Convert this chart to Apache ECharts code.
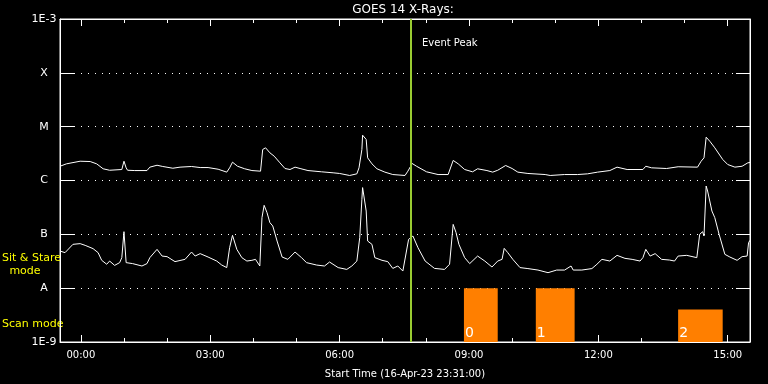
<!DOCTYPE html>
<html><head><meta charset="utf-8">
<script src="https://cdn.jsdelivr.net/npm/echarts@6/dist/echarts.min.js"></script>
<style>html,body{margin:0;padding:0;background:#000}#c{width:768px;height:384px}</style>
</head><body><div id="c"></div>
<script>
const TITLE = "GOES 14 X-Rays:";
const X_NAME = "Start Time (16-Apr-23 23:31:00)";
const START_TIME = "23:31";
const END_TIME = "15:31";
const EVENT_PEAK = "07:39";
const xMajorTicks = ["00:00","03:00","06:00","09:00","12:00","15:00"];
const xMinorTicks = ["00:00","01:00","02:00","03:00","04:00","05:00","06:00","07:00","08:00","09:00","10:00","11:00","12:00","13:00","14:00","15:00"];
const yLevels = [1e-9,1e-8,1e-7,1e-6,1e-5,1e-4,1e-3];
const yLevelLabels = ["1E-9","A","B","C","M","X","1E-3"];

// GOES long channel (1-8 A)
const longTimes = ["23:31","23:40","23:59","00:13","00:22","00:31","00:40","00:57","01:00","01:03","01:05","01:15","01:32","01:36","01:46","01:54","02:08","02:18","02:34","02:46","02:57","03:11","03:23","03:27","03:31","03:38","03:48","03:58","04:10","04:13","04:17","04:23","04:29","04:37","04:44","04:51","04:58","05:05","05:16","05:35","05:51","06:00","06:14","06:24","06:27","06:31","06:32","06:37","06:39","06:45","06:52","07:03","07:14","07:31","07:35","07:41","07:47","08:01","08:17","08:31","08:38","08:45","08:54","09:05","09:12","09:25","09:33","09:40","09:51","10:00","10:08","10:22","10:46","10:53","11:13","11:31","11:45","11:59","12:16","12:26","12:40","13:02","13:06","13:14","13:35","13:51","14:18","14:23","14:27","14:30","14:32","14:35","14:42","14:53","15:00","15:10","15:20","15:28","15:31"];
const longFlux = [1.84e-6,2.04e-6,2.28e-6,2.25e-6,2.04e-6,1.65e-6,1.55e-6,1.60e-6,2.28e-6,1.72e-6,1.55e-6,1.53e-6,1.53e-6,1.77e-6,1.92e-6,1.82e-6,1.69e-6,1.77e-6,1.82e-6,1.74e-6,1.74e-6,1.62e-6,1.43e-6,1.72e-6,2.19e-6,1.84e-6,1.65e-6,1.53e-6,1.49e-6,3.77e-6,4.05e-6,3.27e-6,2.83e-6,2.13e-6,1.67e-6,1.60e-6,1.77e-6,1.67e-6,1.53e-6,1.45e-6,1.39e-6,1.35e-6,1.24e-6,1.33e-6,1.72e-6,3.77e-6,6.95e-6,5.78e-6,2.64e-6,2.04e-6,1.65e-6,1.43e-6,1.29e-6,1.24e-6,1.49e-6,2.07e-6,1.84e-6,1.45e-6,1.29e-6,1.29e-6,2.36e-6,2.04e-6,1.60e-6,1.45e-6,1.65e-6,1.53e-6,1.43e-6,1.55e-6,1.90e-6,1.67e-6,1.43e-6,1.35e-6,1.29e-6,1.24e-6,1.29e-6,1.29e-6,1.33e-6,1.43e-6,1.53e-6,1.77e-6,1.60e-6,1.60e-6,1.84e-6,1.72e-6,1.67e-6,1.80e-6,1.77e-6,2.28e-6,2.64e-6,6.38e-6,6.66e-6,5.37e-6,4.05e-6,2.46e-6,1.98e-6,1.77e-6,1.84e-6,2.13e-6,2.16e-6];

// GOES short channel (0.5-4 A)
const shortTimes = ["23:31","23:38","23:49","23:59","00:06","00:17","00:24","00:29","00:36","00:40","00:47","00:54","00:57","01:00","01:03","01:12","01:25","01:32","01:36","01:46","01:53","02:00","02:11","02:25","02:34","02:39","02:46","02:57","03:09","03:16","03:23","03:27","03:31","03:37","03:44","03:51","03:58","04:03","04:09","04:12","04:15","04:19","04:23","04:27","04:33","04:40","04:48","04:58","05:07","05:14","05:28","05:39","05:46","05:58","06:10","06:17","06:24","06:28","06:31","06:32","06:37","06:39","06:45","06:49","06:59","07:07","07:14","07:21","07:28","07:36","07:42","07:49","07:59","08:12","08:26","08:33","08:38","08:42","08:46","08:54","09:01","09:12","09:22","09:32","09:40","09:46","09:49","09:54","10:01","10:11","10:22","10:36","10:50","11:02","11:13","11:22","11:25","11:37","11:51","11:58","12:05","12:16","12:26","12:37","12:47","12:58","13:02","13:06","13:12","13:19","13:28","13:39","13:46","13:51","14:03","14:17","14:21","14:25","14:27","14:30","14:32","14:38","14:42","14:48","14:56","15:03","15:13","15:20","15:27","15:29","15:31"];
const shortFlux = [4.89e-8,4.57e-8,6.52e-8,6.72e-8,6.24e-8,5.42e-8,4.57e-8,3.29e-8,2.78e-8,3.19e-8,2.65e-8,2.98e-8,3.69e-8,1.12e-7,2.98e-8,2.86e-8,2.58e-8,2.86e-8,3.69e-8,5.26e-8,3.95e-8,3.85e-8,3.11e-8,3.43e-8,4.69e-8,3.95e-8,4.38e-8,3.79e-8,3.19e-8,2.69e-8,2.41e-8,5.66e-8,9.58e-8,5.26e-8,3.69e-8,3.19e-8,3.29e-8,3.43e-8,2.58e-8,2.04e-7,3.46e-7,2.53e-7,1.65e-7,1.43e-7,7.51e-8,3.79e-8,3.43e-8,4.69e-8,3.69e-8,2.98e-8,2.69e-8,2.58e-8,3.06e-8,2.41e-8,2.23e-8,2.58e-8,3.19e-8,8.68e-8,4.47e-7,7.38e-7,2.71e-7,7.51e-8,6.52e-8,3.69e-8,3.29e-8,3.11e-8,2.33e-8,2.58e-8,2.08e-8,8.07e-8,9.30e-8,5.66e-8,3.19e-8,2.33e-8,2.23e-8,2.78e-8,1.53e-7,1.08e-7,6.52e-8,3.69e-8,2.86e-8,3.95e-8,3.19e-8,2.47e-8,3.19e-8,3.43e-8,5.49e-8,4.57e-8,3.43e-8,2.41e-8,2.31e-8,2.17e-8,1.94e-8,2.17e-8,2.17e-8,2.58e-8,2.17e-8,2.17e-8,2.31e-8,2.78e-8,3.43e-8,3.19e-8,4.07e-8,3.58e-8,3.43e-8,3.19e-8,3.69e-8,5.26e-8,3.95e-8,4.38e-8,3.43e-8,3.33e-8,3.19e-8,3.95e-8,4.07e-8,3.69e-8,1.00e-7,1.12e-7,9.30e-8,7.90e-7,6.38e-7,2.71e-7,2.04e-7,1.00e-7,4.25e-8,3.79e-8,3.29e-8,3.85e-8,3.95e-8,7.00e-8,7.74e-8];

// Scan mode blocks
const scanLabels = ["0","1","2"];
const scanStart = ["08:53","10:33","13:51"];
const scanEnd = ["09:40","11:27","14:53"];
const scanTop = [1e-8,1e-8,4e-9];

function toHours(s){
  const p = s.split(":");
  let h = +p[0] + (+p[1])/60;
  if (h >= 20) h -= 24;
  return h;
}
function fmtHour(v){
  const h = Math.round(v*60);
  const hh = Math.floor(h/60), mm = h%60;
  return String(hh).padStart(2,"0")+":"+String(mm).padStart(2,"0");
}
const FONT = "DejaVu Sans";
const xMin = toHours(START_TIME), xMax = toHours(END_TIME);
const majorVals = xMajorTicks.map(toHours);
const minorVals = xMinorTicks.map(toHours);

const chart = echarts.init(document.getElementById("c"), null, {renderer:"canvas"});
const baseX = {
  type:"value", min:xMin, max:xMax, gridIndex:0,
  axisLine:{show:true, onZero:false, lineStyle:{color:"#fff", width:1}},
  splitLine:{show:false}
};
const option = {
  backgroundColor:"#000",
  animation:false,
  grid:{left:60, right:18, top:19, bottom:42, show:true, borderColor:"#fff", borderWidth:1, backgroundColor:"transparent"},
  xAxis:[
    Object.assign({}, baseX, {
      position:"bottom",
      axisTick:{show:true, inside:true, length:7, customValues:majorVals, lineStyle:{color:"#fff"}},
      axisLabel:{show:true, customValues:majorVals, formatter:fmtHour, color:"#fff", fontFamily:FONT, fontSize:10, margin:8},
      name:X_NAME, nameLocation:"middle", nameGap:27,
      nameTextStyle:{color:"#fff", fontFamily:FONT, fontSize:10}
    }),
    Object.assign({}, baseX, {
      position:"bottom", axisLine:{show:false, onZero:false},
      axisTick:{show:true, inside:true, length:4, customValues:minorVals, lineStyle:{color:"#fff"}},
      axisLabel:{show:false}
    }),
    Object.assign({}, baseX, {
      position:"top",
      axisTick:{show:true, inside:true, length:7, customValues:majorVals, lineStyle:{color:"#fff"}},
      axisLabel:{show:false}
    }),
    Object.assign({}, baseX, {
      position:"top", axisLine:{show:false, onZero:false},
      axisTick:{show:true, inside:true, length:4, customValues:minorVals, lineStyle:{color:"#fff"}},
      axisLabel:{show:false}
    })
  ],
  yAxis:[
    {
      type:"log", logBase:10, min:yLevels[0], max:yLevels[yLevels.length-1], splitNumber:6, position:"left",
      axisLine:{show:true, onZero:false, lineStyle:{color:"#fff"}},
      axisTick:{show:true, inside:true, length:15, lineStyle:{color:"#fff"}},
      axisLabel:{color:"#fff", fontFamily:FONT, fontSize:11, align:"center", margin:16,
        formatter:function(v){ const i = Math.round(Math.log10(v)) + 9; return yLevelLabels[i] || ""; }},
      splitLine:{show:true, lineStyle:{color:"#fff", width:1, type:[1,6]}}
    },
    {
      type:"log", logBase:10, min:yLevels[0], max:yLevels[yLevels.length-1], splitNumber:6, position:"right",
      axisLine:{show:true, onZero:false, lineStyle:{color:"#fff"}},
      axisTick:{show:true, inside:true, length:14, lineStyle:{color:"#fff"}},
      axisLabel:{show:false},
      splitLine:{show:false}
    }
  ],
  graphic:[
    {type:"text", x:403, y:10, style:{text:TITLE, fill:"#fff", font:"12px "+FONT, align:"center", verticalAlign:"middle"}},
    {type:"text", x:422, y:43, z:10, style:{text:"Event Peak", fill:"#fff", font:"10px "+FONT, align:"left", verticalAlign:"middle"}},
    {type:"text", x:2, y:258, style:{text:"Sit & Stare", fill:"#ffff00", font:"11px "+FONT, align:"left", verticalAlign:"middle"}},
    {type:"text", x:25, y:271, style:{text:"mode", fill:"#ffff00", font:"11px "+FONT, align:"center", verticalAlign:"middle"}},
    {type:"text", x:2, y:324, style:{text:"Scan mode", fill:"#ffff00", font:"11px "+FONT, align:"left", verticalAlign:"middle"}}
  ],
  series:[
    {
      type:"custom", xAxisIndex:0, yAxisIndex:0, z:1,
      encode:{x:[0,1], y:2},
      data: scanStart.map((s,i)=>[toHours(s), toHours(scanEnd[i]), scanTop[i]]),
      renderItem:function(params, api){
        const p0 = api.coord([api.value(0), api.value(2)]);
        const p1 = api.coord([api.value(1), yLevels[0]]);
        return {type:"group", children:[
          {type:"rect", shape:{x:p0[0], y:p0[1], width:p1[0]-p0[0], height:p1[1]-p0[1]}, style:{fill:"#ff7f00"}},
          {type:"text", x:p0[0]+1, y:p1[1]-9, style:{text:scanLabels[params.dataIndex], fill:"#fff", font:"14px "+FONT, align:"left", verticalAlign:"middle"}}
        ]};
      }
    },
    {
      type:"line", xAxisIndex:0, yAxisIndex:0, z:3, showSymbol:false, symbol:"none",
      lineStyle:{color:"#fff", width:1},
      data: longTimes.map((t,i)=>[toHours(t), longFlux[i]]),
      markLine:{symbol:"none", silent:true, label:{show:false}, z:5,
        lineStyle:{color:"#9acd32", width:2, type:"solid"},
        data:[{xAxis:toHours(EVENT_PEAK)}]}
    },
    {
      type:"line", xAxisIndex:0, yAxisIndex:0, z:3, showSymbol:false, symbol:"none",
      lineStyle:{color:"#fff", width:1},
      data: shortTimes.map((t,i)=>[toHours(t), shortFlux[i]])
    }
  ]
};
chart.setOption(option);
</script>
</body></html>
